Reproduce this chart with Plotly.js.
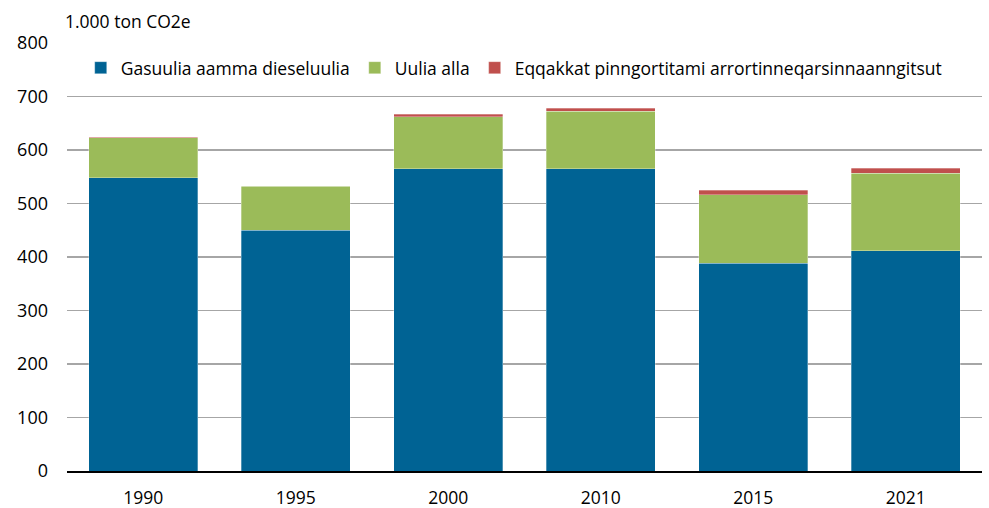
<!DOCTYPE html>
<html>
<head>
<meta charset="utf-8">
<script src="https://cdn.plot.ly/plotly-3.0.1.min.js"></script>
<style>html,body{margin:0;padding:0;background:#fff;}#chart{width:989px;height:508px;}</style>
</head>
<body>
<div id="chart"></div>
<script>
const years = ["1990", "1995", "2000", "2010", "2015", "2021"];
const gasDiesel = [548, 450, 565, 565, 388, 412];
const uuliaAlla = [75, 82, 97, 107, 128, 145];
const eqqakkat = [1, 1.5, 5, 6, 9, 9];
const seriesNames = ["Gasuulia aamma dieseluulia", "Uulia alla", "Eqqakkat pinngortitami arrortinneqarsinnaanngitsut"];
const seriesColors = ["#006394", "#9BBB59", "#C0504D"];
const yTicks = [0, 100, 200, 300, 400, 500, 600, 700, 800];
const unitLabel = "1.000 ton CO2e";

const font = "Open Sans, Liberation Sans, sans-serif";
const seriesValues = [gasDiesel, uuliaAlla, eqqakkat];
const traces = seriesValues.map((vals, i) => ({
  type: "bar",
  name: seriesNames[i],
  x: years,
  y: vals,
  marker: {color: seriesColors[i], line: {color: "rgba(255,255,255,0.5)", width: 0.6}},
  hoverinfo: "x+y+name"
}));

const layout = {
  width: 989, height: 508,
  margin: {l: 67, r: 7, t: 43, b: 37},
  barmode: "stack",
  bargap: 0.285,
  paper_bgcolor: "#fff",
  plot_bgcolor: "#fff",
  font: {family: font, size: 18, color: "#000"},
  showlegend: true,
  legend: {
    orientation: "h",
    x: 0.015, y: 0.942, xanchor: "left", yanchor: "middle",
    font: {family: font, size: 17.5, color: "#000"},
    bgcolor: "rgba(255,255,255,0)",
    traceorder: "normal",
    itemwidth: 30,
    tracegroupgap: 0
  },
  xaxis: {
    type: "category",
    tickfont: {family: font, size: 17.5, color: "#000"},
    showgrid: false,
    showline: true, linecolor: "#000", linewidth: 1.5,
    ticks: "", ticklen: 0,
    ticklabelstandoff: 10,
    fixedrange: true
  },
  yaxis: {
    range: [0, 800],
    tickvals: yTicks,
    ticktext: yTicks.map(String),
    tickfont: {family: font, size: 18, color: "#000"},
    showgrid: true, gridcolor: "#a6a6a6", gridwidth: 1.5,
    zeroline: false,
    showline: false,
    ticks: "", ticklen: 0,
    ticklabelstandoff: 18,
    fixedrange: true
  },
  annotations: [{
    text: unitLabel,
    xref: "paper", yref: "paper",
    x: -0.004, y: 1.0, xanchor: "left", yanchor: "bottom", yshift: 8,
    showarrow: false,
    font: {family: font, size: 17.5, color: "#000"}
  }]
};

Plotly.newPlot("chart", traces, layout, {displayModeBar: false, staticPlot: true});
</script>
</body>
</html>
